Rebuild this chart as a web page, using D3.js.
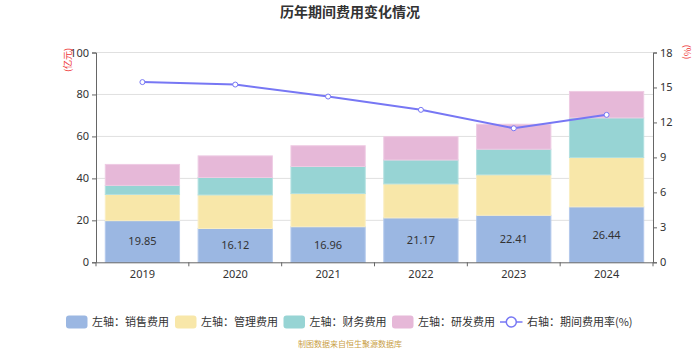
<!DOCTYPE html>
<html><head><meta charset="utf-8">
<script src="https://cdn.jsdelivr.net/npm/d3@7/dist/d3.min.js"></script>
<style>body{margin:0;background:#fff;}svg{display:block;font-family:"Noto Sans CJK SC","Noto Sans",sans-serif;}</style>
</head><body><svg id="c" width="700" height="350"></svg>
<script>
const years = ["2019","2020","2021","2022","2023","2024"];
const sales = [19.85,16.12,16.96,21.17,22.41,26.44];
const mgmt = [12.5,16.0,15.8,16.2,19.3,23.5];
const finance = [4.3,8.3,12.9,11.4,12.2,18.9];
const rnd = [10.0,10.3,9.9,11.1,11.9,12.6];
const rate = [15.46,15.25,14.22,13.08,11.5,12.65];
const leftTicks = [0,20,40,60,80,100];
const rightTicks = [0,3,6,9,12,15,18];
const seriesNames = ["左轴：销售费用","左轴：管理费用","左轴：财务费用","左轴：研发费用"];
const lineName = "右轴：期间费用率(%)";
const colors = ["#9bb7e2","#f8e7a9","#97d4d4","#e6b8d8"];
const strokes = ["#b3c9ec","#faeec2","#b2e0e0","#eecbe3"];
const lineColor = "#7777f4";

const svg = d3.select("#c");
const L=96, R=653, T=52.5, B=262.3;
const x = d3.scaleBand().domain(years).range([L,R]).paddingInner(0.2).paddingOuter(0.1);
const xb = d3.scaleBand().domain(years).range([L,R]);
const y = d3.scaleLinear().domain([0,100]).range([B,T]);
const y2 = d3.scaleLinear().domain([0,18]).range([B,T]);

// title
svg.append("text").attr("x",350).attr("y",17).attr("text-anchor","middle")
  .attr("font-size",14).attr("font-weight","bold").attr("fill","#333").text("历年期间费用变化情况");

// grid
svg.append("g").selectAll("line").data(leftTicks.filter(d=>d>0)).join("line")
  .attr("x1",L).attr("x2",R).attr("y1",d=>y(d)).attr("y2",d=>y(d))
  .attr("stroke","#e0e0e0").attr("stroke-width",1);

// stacked bars
const table = years.map((yr,i)=>({year:yr,s0:sales[i],s1:mgmt[i],s2:finance[i],s3:rnd[i]}));
const stack = d3.stack().keys(["s0","s1","s2","s3"])(table);
stack.forEach((layer,k)=>{
  svg.append("g").selectAll("rect").data(layer).join("rect")
    .attr("x",d=>x(d.data.year)).attr("width",x.bandwidth())
    .attr("y",d=>y(d[1])).attr("height",d=>y(d[0])-y(d[1]))
    .attr("fill",colors[k]).attr("stroke",strokes[k]).attr("stroke-width",1);
});
// labels
svg.append("g").selectAll("text").data(table).join("text")
  .attr("x",d=>x(d.year)+x.bandwidth()/2).attr("y",d=>y(d.s0/2)+4)
  .attr("text-anchor","middle").attr("font-size",11).attr("fill","#333")
  .attr("font-family","Noto Sans, sans-serif")
  .text(d=>d.s0.toFixed(2));

// axes
const gl = svg.append("g").attr("transform",`translate(${L},0)`)
  .call(d3.axisLeft(y).tickValues(leftTicks).tickSize(4).tickPadding(3));
const gr = svg.append("g").attr("transform",`translate(${R},0)`)
  .call(d3.axisRight(y2).tickValues(rightTicks).tickSize(4).tickPadding(3));
const gx = svg.append("g").attr("transform",`translate(0,${B})`)
  .call(d3.axisBottom(xb).tickSize(0).tickPadding(8));
[gl,gr,gx].forEach(g=>{
  g.selectAll("path.domain").attr("stroke","#666");
  g.selectAll(".tick line").attr("stroke","#666");
  g.selectAll("text").attr("fill","#333").attr("font-size",11).attr("font-family","Noto Sans, sans-serif");
});
// x boundary ticks
svg.append("g").selectAll("line").data(d3.range(years.length+1)).join("line")
  .attr("x1",i=>L+i*xb.step()).attr("x2",i=>L+i*xb.step())
  .attr("y1",B).attr("y2",B+4).attr("stroke","#666");

// unit labels
svg.append("text").attr("transform","translate(71,60) rotate(-90)").attr("text-anchor","middle")
  .attr("font-size",9).attr("fill","#e33").text("(亿元)");
svg.append("text").attr("transform","translate(684,52) rotate(90)").attr("text-anchor","middle")
  .attr("font-size",9).attr("fill","#e33").text("(%)");

// line
const line = d3.line().x((d,i)=>xb(years[i])+xb.bandwidth()/2).y(d=>y2(d));
svg.append("path").datum(rate).attr("d",line).attr("fill","none")
  .attr("stroke",lineColor).attr("stroke-width",2);
svg.append("g").selectAll("circle").data(rate).join("circle")
  .attr("cx",(d,i)=>xb(years[i])+xb.bandwidth()/2).attr("cy",d=>y2(d)).attr("r",2.5)
  .attr("fill","#fff").attr("stroke",lineColor).attr("stroke-width",1);

// legend
const lg = svg.append("g");
const lx = [66,175,283.5,392];
seriesNames.forEach((n,k)=>{
  lg.append("rect").attr("x",lx[k]).attr("y",315.5).attr("width",21.5).attr("height",13).attr("rx",3)
    .attr("fill",colors[k]);
  lg.append("text").attr("x",lx[k]+26).attr("y",326).attr("font-size",11).attr("fill","#333").text(n);
});
lg.append("line").attr("x1",500).attr("x2",522.5).attr("y1",322).attr("y2",322).attr("stroke",lineColor).attr("stroke-width",1.5);
lg.append("circle").attr("cx",511.3).attr("cy",322).attr("r",5).attr("fill","#fff").attr("stroke",lineColor).attr("stroke-width",1.5);
lg.append("text").attr("x",527).attr("y",326).attr("font-size",11).attr("fill","#333").text(lineName);

// source
svg.append("text").attr("x",350).attr("y",347).attr("text-anchor","middle").attr("font-size",8)
  .attr("fill","#c9a045").text("制图数据来自恒生聚源数据库");
</script></body></html>
